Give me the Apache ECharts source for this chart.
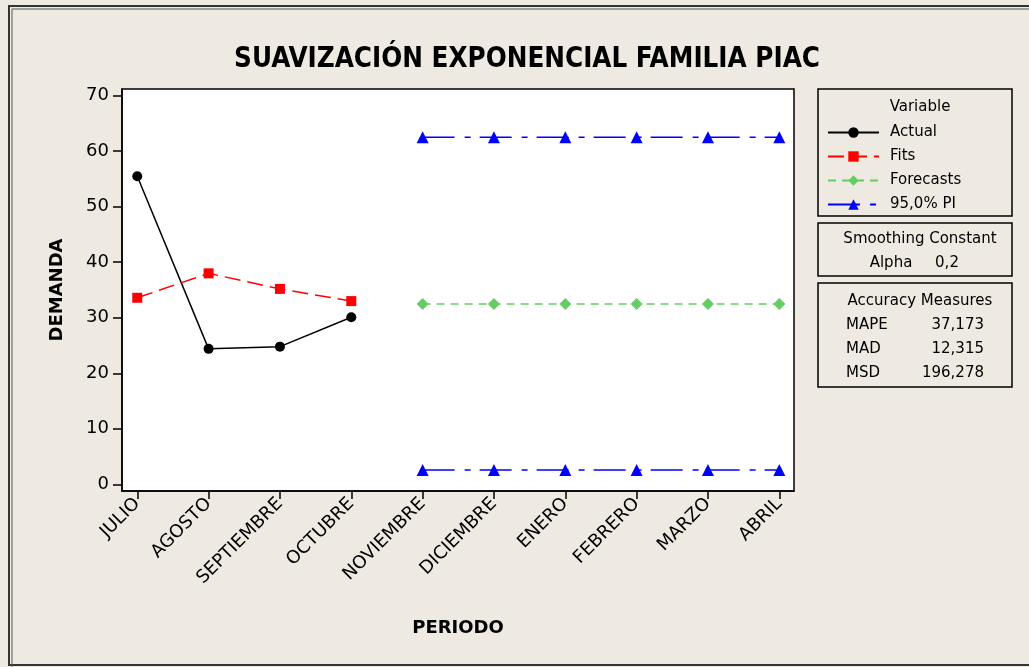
<!DOCTYPE html>
<html>
<head>
<meta charset="utf-8">
<script src="https://cdn.jsdelivr.net/npm/echarts@6/dist/echarts.min.js"></script>
<style>
  html, body { margin: 0; padding: 0; background: #EEEAE1; }
  #chart { width: 1029px; height: 667px; }
</style>
</head>
<body>
<div id="chart"></div>
<script>
// periods on the x axis
const periods = ['JULIO', 'AGOSTO', 'SEPTIEMBRE', 'OCTUBRE', 'NOVIEMBRE', 'DICIEMBRE', 'ENERO', 'FEBRERO', 'MARZO', 'ABRIL'];
// observed demand and smoothed fits (first four periods)
const actual = [55.5, 24.4, 24.8, 30.1];
const fits = [33.6, 38.0, 35.2, 33.0];
// forecast + 95% prediction interval (last six periods)
const forecasts = [32.5, 32.5, 32.5, 32.5, 32.5, 32.5];
const upperPI = [62.5, 62.5, 62.5, 62.5, 62.5, 62.5];
const lowerPI = [2.6, 2.6, 2.6, 2.6, 2.6, 2.6];
const yTicks = [0, 10, 20, 30, 40, 50, 60, 70];
const xTicks = periods.map((p, i) => i);
const smoothing = [['Alpha', '0,2']];
const accuracy = [['MAPE', '37,173'], ['MAD', '12,315'], ['MSD', '196,278']];

const font = 'DejaVu Sans';
const start = actual.length;

const toPts = (arr, off) => arr.map((v, i) => [i + off, v]);

// side boxes (legend frame, smoothing constant, accuracy measures)
const boxes = [
  { type: 'rect', shape: { x: 818, y: 89, width: 194, height: 127 }, style: { fill: 'none', stroke: '#000', lineWidth: 1.5 } },
  { type: 'rect', shape: { x: 818, y: 223, width: 194, height: 53 }, style: { fill: 'none', stroke: '#000', lineWidth: 1.5 } },
  { type: 'rect', shape: { x: 818, y: 283, width: 194, height: 104 }, style: { fill: 'none', stroke: '#000', lineWidth: 1.5 } },
  { type: 'text', x: 920, y: 107, style: { text: 'Variable', font: '15px ' + font, fill: '#000', align: 'center', verticalAlign: 'middle' } },
  { type: 'text', x: 920, y: 239, style: { text: 'Smoothing Constant', font: '15px ' + font, fill: '#000', align: 'center', verticalAlign: 'middle' } },
  { type: 'text', x: 920, y: 301, style: { text: 'Accuracy Measures', font: '15px ' + font, fill: '#000', align: 'center', verticalAlign: 'middle' } },
  // outer frame
  { type: 'rect', shape: { x: 9, y: 6, width: 1040, height: 659 }, style: { fill: 'none', stroke: '#333', lineWidth: 2 } },
  { type: 'rect', shape: { x: 12, y: 9, width: 1040, height: 660 }, style: { fill: 'none', stroke: '#555', lineWidth: 1 } }
];
smoothing.forEach((r, i) => {
  boxes.push({ type: 'text', x: 891, y: 263 + i * 24, style: { text: r[0], font: '15px ' + font, fill: '#000', align: 'center', verticalAlign: 'middle' } });
  boxes.push({ type: 'text', x: 947, y: 263 + i * 24, style: { text: r[1], font: '15px ' + font, fill: '#000', align: 'center', verticalAlign: 'middle' } });
});
accuracy.forEach((r, i) => {
  boxes.push({ type: 'text', x: 846, y: 325 + i * 24, style: { text: r[0], font: '15px ' + font, fill: '#000', align: 'left', verticalAlign: 'middle' } });
  boxes.push({ type: 'text', x: 984, y: 325 + i * 24, style: { text: r[1], font: '15px ' + font, fill: '#000', align: 'right', verticalAlign: 'middle' } });
});

const option = {
  backgroundColor: '#EEEAE1',
  animation: false,
  title: {
    text: 'SUAVIZACIÓN EXPONENCIAL FAMILIA PIAC',
    left: 522,
    top: 41,
    textAlign: 'center',
    textStyle: { fontFamily: 'DejaVu Sans Condensed', fontWeight: 'bold', fontSize: 27.5, color: '#000' }
  },
  legend: {
    orient: 'vertical',
    left: 827,
    top: 125,
    padding: 0,
    itemWidth: 51,
    itemHeight: 13,
    itemGap: 9,
    textStyle: { fontFamily: font, fontSize: 15, color: '#000', padding: [0, 0, 0, 6] },
    data: ['Actual', 'Fits', 'Forecasts', '95,0% PI']
  },
  grid: {
    left: 122,
    top: 89,
    right: 235,
    bottom: 176,
    show: true,
    backgroundColor: '#fff',
    borderColor: '#000',
    borderWidth: 1.5
  },
  xAxis: {
    type: 'value',
    min: -0.214,
    max: 9.206,
    name: 'PERIODO',
    nameLocation: 'middle',
    nameGap: 128,
    nameTextStyle: { fontFamily: font, fontWeight: 'bold', fontSize: 18, color: '#000' },
    splitLine: { show: false },
    axisLine: { onZero: false, lineStyle: { color: '#000', width: 1.5 } },
    axisTick: { length: 8, lineStyle: { color: '#000', width: 1.5 }, customValues: xTicks },
    axisLabel: {
      customValues: xTicks,
      rotate: 45,
      margin: 10,
      fontFamily: font,
      fontSize: 18,
      color: '#000',
      formatter: v => periods[Math.round(v)]
    }
  },
  yAxis: {
    type: 'value',
    min: -1.2,
    max: 71.2,
    name: 'DEMANDA',
    nameLocation: 'middle',
    nameGap: 56,
    nameTextStyle: { fontFamily: font, fontWeight: 'bold', fontSize: 18, color: '#000' },
    splitLine: { show: false },
    axisLine: { show: true, onZero: false, lineStyle: { color: '#000', width: 1.5 } },
    axisTick: { show: true, length: 9, lineStyle: { color: '#000', width: 1.5 }, customValues: yTicks },
    axisLabel: { customValues: yTicks, margin: 13, fontFamily: font, fontSize: 18, color: '#000' }
  },
  series: [
    {
      name: 'Actual',
      type: 'line',
      data: toPts(actual, 0),
      symbol: 'circle',
      symbolSize: 10,
      itemStyle: { color: '#000' },
      lineStyle: { color: '#000', width: 1.5 }
    },
    {
      name: 'Fits',
      type: 'line',
      data: toPts(fits, 0),
      symbol: 'rect',
      symbolSize: 10,
      itemStyle: { color: '#FF0000' },
      lineStyle: { color: '#FF0000', width: 1.5, type: [16, 7] }
    },
    {
      name: 'Forecasts',
      type: 'line',
      data: toPts(forecasts, start),
      symbol: 'diamond',
      symbolSize: 12,
      itemStyle: { color: '#66CC66' },
      lineStyle: { color: '#66CC66', width: 1.5, type: [8, 6] }
    },
    {
      name: '95,0% PI',
      type: 'line',
      data: toPts(upperPI, start),
      symbol: 'triangle',
      symbolSize: 12,
      itemStyle: { color: '#0000FF' },
      lineStyle: { color: '#0000FF', width: 1.5, type: [32, 10, 6, 9] }
    },
    {
      name: '95,0% PI',
      type: 'line',
      data: toPts(lowerPI, start),
      symbol: 'triangle',
      symbolSize: 12,
      itemStyle: { color: '#0000FF' },
      lineStyle: { color: '#0000FF', width: 1.5, type: [32, 10, 6, 9] }
    }
  ],
  graphic: boxes
};

const myChart = echarts.init(document.getElementById('chart'));
myChart.setOption(option);
</script>
</body>
</html>
